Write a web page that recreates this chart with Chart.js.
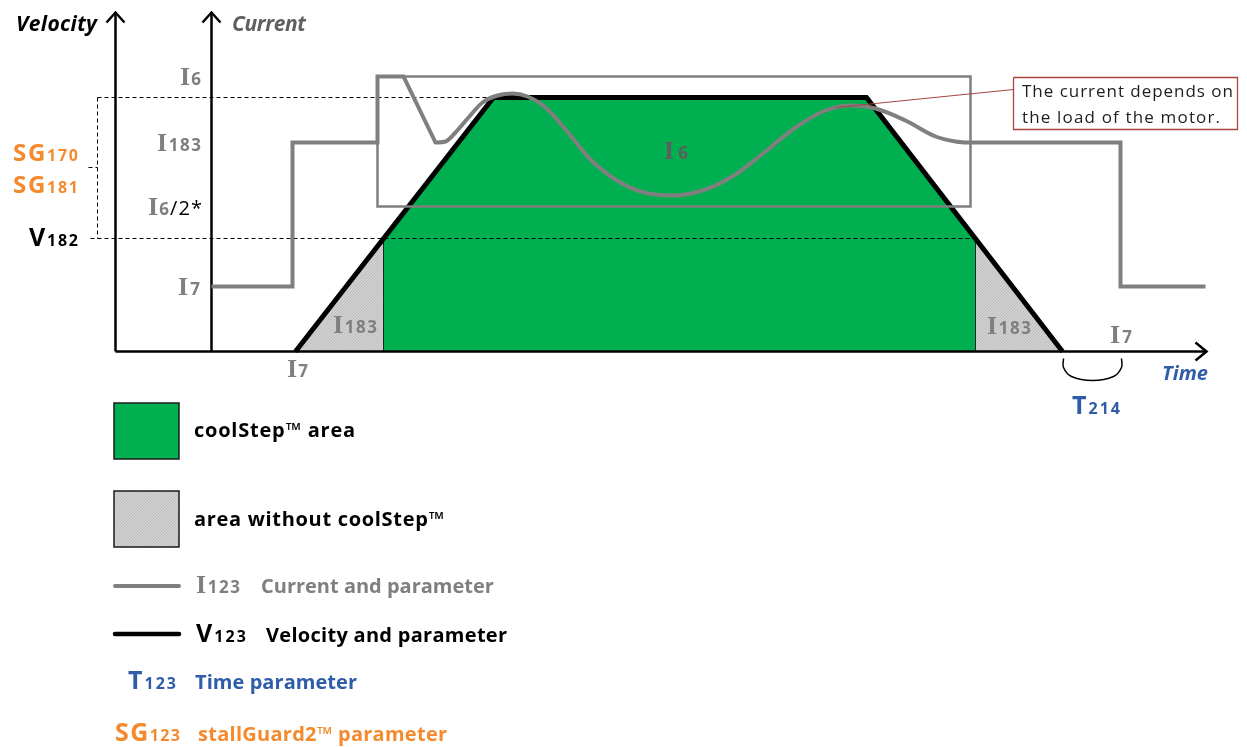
<!DOCTYPE html>
<html><head><meta charset="utf-8">
<script src="https://cdn.jsdelivr.net/npm/chart.js@4.4.1/dist/chart.umd.min.js"></script>
<style>html,body{margin:0;padding:0;background:#fff}#wrap{width:1247px;height:747px;position:relative}</style>
</head><body><div id="wrap"><canvas id="c"></canvas></div>
<script>
// ---- data (time t, level v) ----
const velocityT = [180, 378, 751, 947];
const velocityV = [0, 254, 254, 0];
const coolStepT = [268, 268, 378, 751, 860, 860];
const coolStepV = [0, 113, 254, 254, 113, 0];
const noCoolLeftT = [180, 268, 268];
const noCoolLeftV = [0, 113, 0];
const noCoolRightT = [860, 860, 947];
const noCoolRightV = [0, 113, 0];
const currentInT = [96, 177, 177, 262, 262, 288, 320];
const currentInV = [65, 65, 209, 209, 275, 275, 209];
const currentLoadT = [320, 330, 340, 353, 367, 382, 397, 412, 430, 450, 475, 500, 525, 558, 590, 620, 650, 680, 710, 735, 760, 790, 820, 840, 850];
const currentLoadV = [209, 210, 219, 234, 249, 256, 258, 255, 244, 222, 192, 172, 160, 156, 162, 177, 200, 224, 241, 246, 243, 231, 215, 210, 209];
const currentOutT = [850, 1005, 1005, 1090];
const currentOutV = [209, 209, 65, 65];
const boxT = [262, 855, 855, 262, 262];
const boxV = [275, 275, 145, 145, 275];
const vmaxLevel = 254, v182Level = 113, sgLevel = 184;
const calloutT = [898, 1122, 1122, 898, 898];
const calloutV = [274, 274, 222, 222, 274];
const calloutLineT = [898, 720];
const calloutLineV = [262, 244];
const braceT = [948, 948, 956, 977, 998, 1006, 1006];
const braceV = [-7, -16, -25, -29, -25, -16, -7];

// ---- styles ----
const GREEN = '#00B050', GRAYL = '#7F7F7F', ORANGE = '#F38A2E', BLUE = '#2F5DA8', RED = '#A9443E';

function pts(ts, vs) { return ts.map((t, i) => ({x: t, y: vs[i]})); }
function line(ts, vs, color, width, extra) {
  return Object.assign({data: pts(ts, vs), showLine: true, borderColor: color, borderWidth: width,
    pointRadius: 0, fill: false, tension: 0, borderJoinStyle: 'miter'}, extra || {});
}

// hatch pattern
const pc = document.createElement('canvas'); pc.width = 3; pc.height = 3;
const pctx = pc.getContext('2d');
pctx.fillStyle = '#D0D0D0'; pctx.fillRect(0, 0, 3, 3);
pctx.fillStyle = '#BFBFBF';
for (let i = 0; i < 3; i++) pctx.fillRect(i, 2 - i, 1, 1);
const hatch = document.createElement('canvas').getContext('2d').createPattern(pc, 'repeat');

const datasets = [
  line(coolStepT, coolStepV, '#222', 1, {fill: 'origin', backgroundColor: GREEN, order: 20}),
  line(noCoolLeftT, noCoolLeftV, '#333', 1, {fill: 'origin', backgroundColor: hatch, order: 20}),
  line(noCoolRightT, noCoolRightV, '#333', 1, {fill: 'origin', backgroundColor: hatch, order: 20}),
  line([-18, 378], [vmaxLevel, vmaxLevel], '#000', 1, {borderDash: [4, 3], order: 15}),
  line([-25, 860], [v182Level, v182Level], '#000', 1, {borderDash: [4, 3], order: 15}),
  line([-18, -18], [vmaxLevel, v182Level], '#000', 1, {borderDash: [4, 3], order: 15}),
  line([-27, -18], [sgLevel, sgLevel], '#000', 1, {borderDash: [4, 3], order: 15}),
  line([0, 0], [0, 339], '#000', 2.5, {order: 12}),
  line([-9, 0, 9], [329, 339, 329], '#000', 2.5, {order: 12}),
  line([96, 96], [0, 339], '#000', 2.5, {order: 12}),
  line([87, 96, 105], [329, 339, 329], '#000', 2.5, {order: 12}),
  line([0, 1091], [0, 0], '#000', 2.5, {order: 12}),
  line([1080, 1091, 1080], [9, 0, -9], '#000', 2.5, {order: 12}),
  line(braceT, braceV, '#000', 1.5, {tension: 0.4, order: 12}),
  line(velocityT, velocityV, '#000', 5, {order: 8}),
  line(boxT, boxV, GRAYL, 2.5, {order: 6}),
  line(currentInT, currentInV, GRAYL, 4, {order: 3}),
  line(currentLoadT, currentLoadV, GRAYL, 4, {cubicInterpolationMode: 'monotone', order: 3, borderCapStyle: 'round'}),
  line(currentOutT, currentOutV, GRAYL, 4, {order: 3}),
  line(calloutLineT, calloutLineV, RED, 1, {order: 1}),
  line(calloutT, calloutV, RED, 1.3, {order: 1})
];

function drawRuns(ctx, x, y, runs, width) {
  let natural = 0, n = 0;
  ctx.letterSpacing = '0px';
  runs.forEach(r => { ctx.font = r.f; r.w = ctx.measureText(r.t).width; natural += r.w; n += [...r.t].length; });
  let ls = width ? (width - natural) / Math.max(1, n - 1) : 0;
  ls = Math.max(-2, Math.min(5, ls));
  let cx = x;
  runs.forEach(r => {
    ctx.font = r.f; ctx.fillStyle = r.c; ctx.letterSpacing = ls.toFixed(2) + 'px';
    ctx.fillText(r.t, cx, y + (r.dy || 0));
    cx += r.w + ls * [...r.t].length;
  });
  ctx.letterSpacing = '0px';
}
const SERIF_I = 'bold 26px "Liberation Serif"';
const DIG = 'bold 17px "Open Sans"';
function iLabel(ctx, x, y, digits, width, color) {
  drawRuns(ctx, x, y, [{t: 'I', f: SERIF_I, c: color}, {t: digits, f: DIG, c: color}], width);
}

const labelPlugin = {
  id: 'labels',
  afterDraw(chart) {
    const ctx = chart.ctx; const ys = chart.scales.y;
    const Y = v => ys.getPixelForValue(v);
    ctx.save();
    ctx.textBaseline = 'alphabetic';
    // axis titles
    drawRuns(ctx, 16, 31, [{t: 'Velocity', f: 'italic bold 21px "Open Sans"', c: '#000'}], 81);
    drawRuns(ctx, 232, 31, [{t: 'Current', f: 'italic bold 21px "Open Sans"', c: '#5F5F5F'}], 74);
    // current levels
    iLabel(ctx, 180, Y(275) + 8, '6', 21, GRAYL);
    iLabel(ctx, 157, Y(209) + 8, '183', 44, GRAYL);
    drawRuns(ctx, 148, Y(145) + 8, [{t: 'I', f: SERIF_I, c: GRAYL}, {t: '6', f: DIG, c: GRAYL}, {t: '/2*', f: '20px "Open Sans"', c: '#000'}], 54);
    iLabel(ctx, 178, Y(65) + 8, '7', 22, GRAYL);
    // stallGuard / velocity params
    drawRuns(ctx, 13, 161, [{t: 'SG', f: 'bold 24px "Open Sans"', c: ORANGE}, {t: '170', f: 'bold 16px "Open Sans"', c: ORANGE}], 65);
    drawRuns(ctx, 13, 193, [{t: 'SG', f: 'bold 24px "Open Sans"', c: ORANGE}, {t: '181', f: 'bold 16px "Open Sans"', c: ORANGE}], 65);
    drawRuns(ctx, 29, Y(v182Level) + 7, [{t: 'V', f: 'bold 25px "Open Sans"', c: '#000'}, {t: '182', f: 'bold 16px "Open Sans"', c: '#000'}], 49);
    // in-chart labels
    iLabel(ctx, 333, 333, '183', 44, GRAYL);
    iLabel(ctx, 987, 334, '183', 44, GRAYL);
    iLabel(ctx, 664, 159, '6', 24, '#5E5E5E');
    iLabel(ctx, 287, 377, '7', 21, GRAYL);
    iLabel(ctx, 1110, 343, '7', 22, GRAYL);
    drawRuns(ctx, 1162, 380, [{t: 'Time', f: 'italic bold 20px "Open Sans"', c: BLUE}], 46);
    drawRuns(ctx, 1072, 414, [{t: 'T', f: 'bold 25px "Open Sans"', c: BLUE}, {t: '214', f: 'bold 16px "Open Sans"', c: BLUE}], 48);
    // callout text
    drawRuns(ctx, 1022, 97, [{t: 'The current depends on', f: '17px "Open Sans"', c: '#1E1E1E'}], 211);
    drawRuns(ctx, 1022, 123, [{t: 'the load of the motor.', f: '17px "Open Sans"', c: '#1E1E1E'}], 198);
    // legend
    ctx.fillStyle = GREEN; ctx.fillRect(114, 403, 65, 56);
    ctx.lineWidth = 1.5; ctx.strokeStyle = '#1a1a1a'; ctx.strokeRect(114, 403, 65, 56);
    ctx.fillStyle = hatch; ctx.fillRect(114, 491, 65, 56);
    ctx.strokeRect(114, 491, 65, 56);
    const LF = 'bold 20px "Open Sans"';
    drawRuns(ctx, 194, 437, [{t: 'coolStep™ area', f: LF, c: '#000'}], 161);
    drawRuns(ctx, 194, 526, [{t: 'area without coolStep™', f: LF, c: '#000'}], 250);
    ctx.lineCap = 'round';
    ctx.lineWidth = 4; ctx.strokeStyle = GRAYL;
    ctx.beginPath(); ctx.moveTo(115, 586); ctx.lineTo(179, 586); ctx.stroke();
    ctx.lineWidth = 4.5; ctx.strokeStyle = '#000';
    ctx.beginPath(); ctx.moveTo(115, 634); ctx.lineTo(179, 634); ctx.stroke();
    drawRuns(ctx, 196, 593, [{t: 'I', f: SERIF_I, c: GRAYL}, {t: '123', f: DIG, c: GRAYL}], 44);
    drawRuns(ctx, 261, 593, [{t: 'Current and parameter', f: LF, c: GRAYL}], 233);
    drawRuns(ctx, 196, 642, [{t: 'V', f: 'bold 25px "Open Sans"', c: '#000'}, {t: '123', f: 'bold 16px "Open Sans"', c: '#000'}], 50);
    drawRuns(ctx, 266, 642, [{t: 'Velocity and parameter', f: LF, c: '#000'}], 241);
    drawRuns(ctx, 128, 689, [{t: 'T', f: 'bold 25px "Open Sans"', c: BLUE}, {t: '123', f: 'bold 16px "Open Sans"', c: BLUE}], 48);
    drawRuns(ctx, 195, 689, [{t: 'Time parameter', f: LF, c: BLUE}], 162);
    drawRuns(ctx, 115, 741, [{t: 'SG', f: 'bold 25px "Open Sans"', c: ORANGE}, {t: '123', f: 'bold 16px "Open Sans"', c: ORANGE}], 65);
    drawRuns(ctx, 198, 741, [{t: 'stallGuard2™ parameter', f: LF, c: ORANGE}], 249);
    ctx.restore();
  }
};

new Chart(document.getElementById('c'), {
  type: 'scatter',
  data: {datasets},
  options: {
    responsive: true, maintainAspectRatio: false, animation: false, events: [],
    layout: {padding: 0},
    scales: {
      x: {type: 'linear', min: -115.5, max: 1131.5, display: false},
      y: {type: 'linear', min: -395.5, max: 351.5, display: false}
    },
    plugins: {legend: {display: false}, tooltip: {enabled: false}, filler: {drawTime: 'beforeDatasetsDraw'}}
  },
  plugins: [labelPlugin]
});
</script></body></html>
